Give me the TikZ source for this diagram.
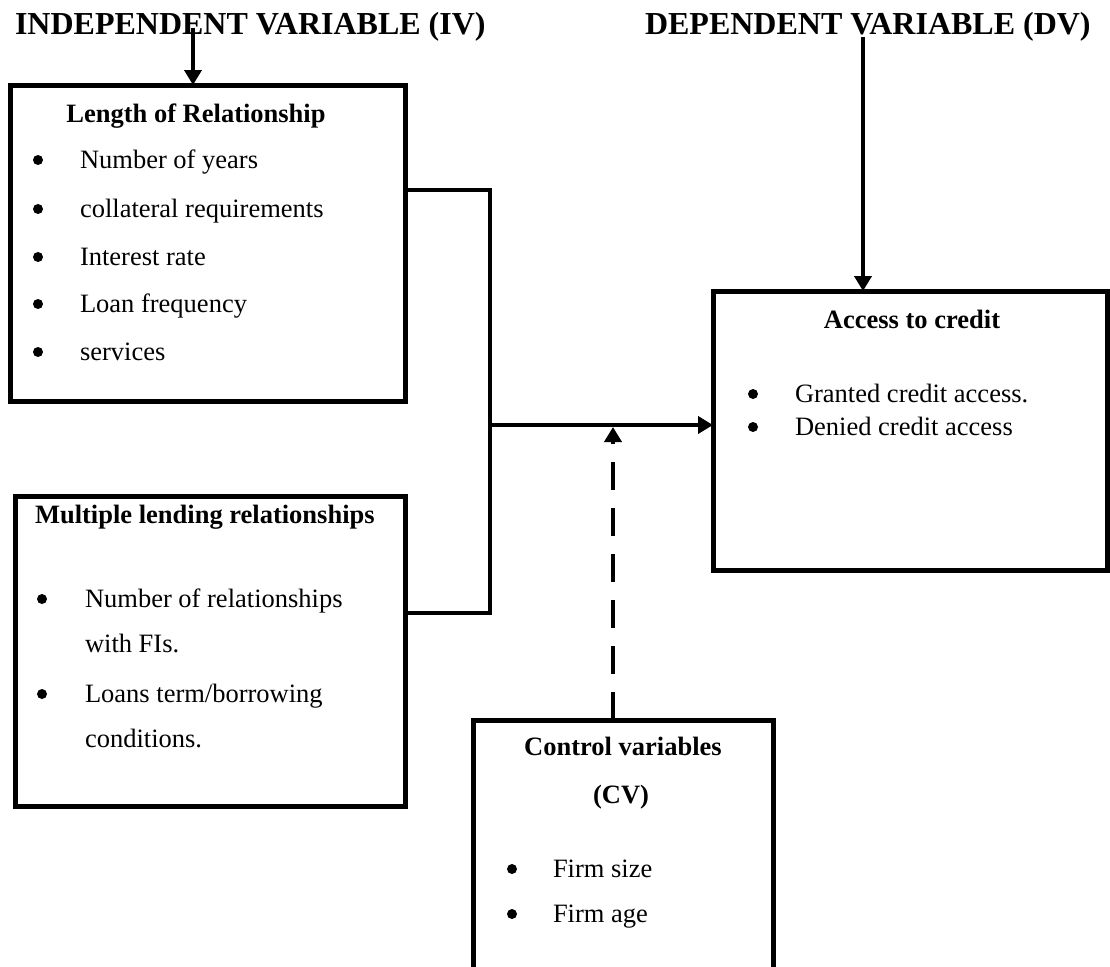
\documentclass[tikz,border=0pt]{standalone}
\usepackage{fontspec}
\setmainfont{Liberation Serif}
\usetikzlibrary{arrows.meta}
\begin{document}
\begin{tikzpicture}[x=1pt,y=-1pt,
  box/.style={draw, line width=5pt, inner sep=0pt, outer sep=0pt, anchor=north west},
  txt/.style={inner sep=0pt, outer sep=0pt, anchor=base west, font=\fontsize{26.5}{30}\selectfont},
  hdr/.style={inner sep=0pt, outer sep=0pt, font=\fontsize{26.5}{30}\selectfont\bfseries},
  ttl/.style={inner sep=0pt, outer sep=0pt, anchor=base west, font=\fontsize{32}{36}\selectfont\bfseries},
  bul/.style={circle, fill, inner sep=0pt, outer sep=0pt, minimum size=10pt, yshift=8pt},
  conn/.style={line width=4.5pt},
  arr/.style={conn, -{Triangle[length=15pt,width=17pt]}},
  darr/.style={arr, dash pattern=on 28pt off 18pt}
]
\clip (0,0) rectangle (1110,966);
% titles
\node[ttl] (ivt) at (15,35) {INDEPENDENT VARIABLE (IV)};
\node[ttl] (dvt) at (645,35) {DEPENDENT VARIABLE (DV)};
% boxes
\node[box, minimum width=395pt, minimum height=316pt] (b1) at (10,85) {};
\node[box, minimum width=390pt, minimum height=310pt] (b2) at (15,496) {};
\node[box, minimum width=394pt, minimum height=279pt] (b3) at (713,291) {};
\node[box, minimum width=300pt, minimum height=300pt] (b4) at (473,720) {};
% box 1 text
\node[hdr, anchor=base] (h1) at (196,122) {Length of Relationship};
\foreach \y/\t [count=\i] in {168/Number of years, 217/collateral requirements, 265/Interest rate, 312/Loan frequency, 360/services}{
  \node[bul] (b1b\i) at (38,\y) {};
  \node[txt] (b1t\i) at (80,\y) {\t};
}
% box 2 text
\node[hdr, anchor=base west] (h2) at (35,523) {Multiple lending relationships};
\node[bul] (b2b1) at (42,607) {};
\node[txt] (b2t1) at (85,607) {Number of relationships};
\node[txt] (b2t2) at (85,652) {with FIs.};
\node[bul] (b2b2) at (42,702) {};
\node[txt] (b2t3) at (85,702) {Loans term/borrowing};
\node[txt] (b2t4) at (85,747) {conditions.};
% box 3 text
\node[hdr, anchor=base] (h3) at (912,328) {Access to credit};
\node[bul] (b3b1) at (753,402) {};
\node[txt] (b3t1) at (795,402) {Granted credit access.};
\node[bul] (b3b2) at (753,435) {};
\node[txt] (b3t2) at (795,435) {Denied credit access};
% box 4 text
\node[hdr, anchor=base] (h4) at (623,755) {Control variables};
\node[hdr, anchor=base] (h4b) at (621,803) {(CV)};
\node[bul] (b4b1) at (512,877) {};
\node[txt] (b4t1) at (553,877) {Firm size};
\node[bul] (b4b2) at (512,922) {};
\node[txt] (b4t2) at (553,922) {Firm age};
% connector points
\coordinate (ivs) at (193,28);
\coordinate (dvs) at (863,37);
\coordinate (j1) at (490,190);
\coordinate (j2) at (490,613);
\coordinate (jm) at (490,425);
\coordinate (dx) at (613,427);
% connectors
\draw[arr] (ivs) -- (ivs |- b1.north);
\draw[arr] (dvs) -- (dvs |- b3.north);
\draw[conn] (b1.east |- j1) -- (j1) -- (j2) -- (b2.east |- j2);
\draw[arr] (jm) -- (b3.west |- jm);
\draw[darr] (dx |- b4.north) -- (dx);
\end{tikzpicture}
\end{document}
